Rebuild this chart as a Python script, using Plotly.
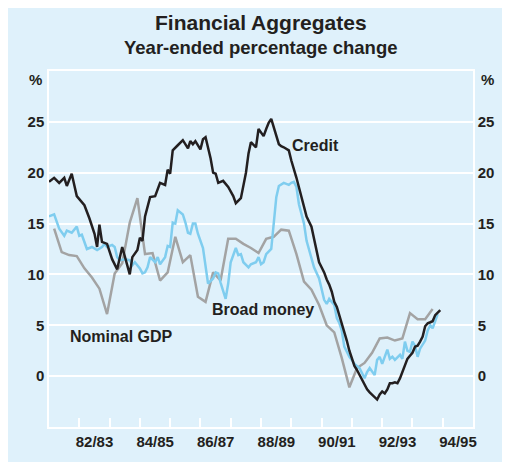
import plotly.graph_objects as go

# Credit, year-ended % change (monthly)
credit_dates = [
    "1981-07", "1981-09", "1981-11",
    "1982-01", "1982-02", "1982-04", "1982-06", "1982-09", "1982-11",
    "1983-01", "1983-02", "1983-03", "1983-04", "1983-06", "1983-08", "1983-10", "1983-12",
    "1984-02", "1984-03", "1984-04", "1984-06", "1984-07", "1984-08", "1984-09", "1984-11",
    "1985-01", "1985-03", "1985-05", "1985-06", "1985-07", "1985-08", "1985-10", "1985-12",
    "1986-02", "1986-03", "1986-04", "1986-05", "1986-07", "1986-08", "1986-09", "1986-11", "1986-12",
    "1987-01", "1987-02", "1987-04", "1987-06", "1987-08", "1987-09", "1987-10", "1987-11",
    "1988-01", "1988-02", "1988-03", "1988-05", "1988-06", "1988-08", "1988-09", "1988-10", "1988-11", "1988-12",
    "1989-01", "1989-02", "1989-03", "1989-04", "1989-06", "1989-07", "1989-09", "1989-11",
    "1990-01", "1990-03", "1990-04", "1990-05", "1990-06", "1990-07", "1990-08", "1990-09", "1990-10", "1990-11", "1990-12",
    "1991-01", "1991-02", "1991-03", "1991-04", "1991-05", "1991-06", "1991-07", "1991-08", "1991-09", "1991-10", "1991-11", "1991-12",
    "1992-01", "1992-02", "1992-03", "1992-04", "1992-05", "1992-06", "1992-07", "1992-08", "1992-09", "1992-10", "1992-11", "1992-12",
    "1993-01", "1993-02", "1993-03", "1993-04", "1993-05", "1993-06", "1993-07", "1993-08", "1993-09", "1993-10", "1993-11", "1993-12",
    "1994-01", "1994-02", "1994-03", "1994-04", "1994-05", "1994-06",
]
credit = [
    19.1, 19.5, 19.0,
    19.5, 18.7, 19.9, 17.7, 16.8, 15.5,
    14.0, 12.7, 14.9, 13.2, 13.0, 11.5, 10.5, 12.7,
    11.0, 10.0, 11.7, 12.4, 13.6, 13.3, 15.7, 17.6,
    17.7, 19.0, 18.8, 20.3, 19.9, 22.2, 22.7, 23.2,
    22.4, 23.1, 22.8, 23.1, 22.3, 23.3, 23.5, 21.4, 20.0,
    19.9, 19.0, 19.2, 18.6, 17.7, 17.0, 17.2, 17.5,
    20.0, 21.9, 23.0, 22.5, 24.3, 23.6, 24.3, 24.9, 25.3, 24.5,
    23.5, 22.8, 22.6, 22.5, 22.2, 21.2, 19.5, 17.5,
    15.7, 14.7, 13.4, 12.5, 11.2, 10.7, 10.2, 9.5, 9.0, 8.3, 7.3,
    6.8, 6.0, 5.3, 4.5, 3.5, 2.5, 1.8, 1.0, 0.6, 0.1, -0.4, -0.9,
    -1.3, -1.6, -1.8, -2.0, -2.3, -1.8, -1.5, -1.7, -1.3, -0.7, -0.7, -0.6,
    -0.7, -0.2, 0.4, 1.0, 1.7, 2.0, 2.3, 2.9, 3.0, 3.4, 3.9, 4.9,
    5.2, 5.3, 5.4, 6.0, 6.3, 6.5,
]

# Broad money, year-ended % change (monthly)
money_dates = [
    "1981-07", "1981-09", "1981-11",
    "1982-01", "1982-02", "1982-04", "1982-06", "1982-07", "1982-08", "1982-09", "1982-10", "1982-12",
    "1983-02", "1983-04", "1983-05", "1983-06", "1983-08", "1983-09", "1983-10", "1983-11",
    "1984-01", "1984-03", "1984-04", "1984-05", "1984-07", "1984-08", "1984-09", "1984-10", "1984-11",
    "1985-01", "1985-02", "1985-03", "1985-05", "1985-06", "1985-07", "1985-08", "1985-09", "1985-10", "1985-12",
    "1986-01", "1986-02", "1986-03", "1986-04", "1986-05", "1986-06", "1986-08", "1986-09", "1986-10", "1986-12",
    "1987-01", "1987-02", "1987-03", "1987-05", "1987-06", "1987-07", "1987-09", "1987-10", "1987-11", "1987-12",
    "1988-02", "1988-03", "1988-05", "1988-06", "1988-07", "1988-08", "1988-09", "1988-11", "1988-12",
    "1989-01", "1989-02", "1989-04", "1989-06", "1989-07", "1989-08", "1989-09", "1989-10", "1989-12",
    "1990-01", "1990-03", "1990-04", "1990-06", "1990-07", "1990-08", "1990-09", "1990-10", "1990-12",
    "1991-01", "1991-02", "1991-03", "1991-04", "1991-06", "1991-07", "1991-08", "1991-10", "1991-11", "1991-12",
    "1992-01", "1992-02", "1992-04", "1992-05", "1992-06", "1992-07", "1992-09", "1992-10", "1992-11", "1992-12",
    "1993-02", "1993-03", "1993-04", "1993-05", "1993-06", "1993-07", "1993-08", "1993-09", "1993-10", "1993-12",
    "1994-01", "1994-02", "1994-03", "1994-04", "1994-05",
]
broad_money = [
    15.7, 15.9, 14.5,
    13.8, 14.3, 14.1, 14.7, 13.8, 13.9, 13.2, 12.5, 12.7,
    12.4, 12.7, 13.0, 12.7, 12.9, 12.7, 11.7, 11.4,
    11.5, 11.4, 10.9, 11.2, 10.6, 10.1, 10.2, 10.7, 11.7,
    11.2, 11.7, 11.0, 11.7, 12.8, 12.7, 15.1, 15.0, 16.3, 15.9,
    15.1, 14.1, 14.0, 15.0, 15.0, 14.0, 12.6, 10.7, 9.1, 9.6,
    10.2, 10.1, 9.2, 7.6, 9.1, 11.2, 12.6, 11.9, 12.0, 11.2,
    10.7, 11.0, 11.2, 11.7, 11.0, 11.2, 12.0, 12.5, 15.3,
    17.6, 18.7, 19.0, 18.8, 19.0, 19.1, 18.6, 16.9, 15.0,
    13.3, 11.4, 10.7, 9.6, 8.4, 7.5, 7.1, 7.6, 7.0,
    5.7, 5.2, 4.5, 2.9, 1.9, 1.6, 1.2, 0.8, 0.3, -0.2,
    0.4, 0.8, 0.1, 1.6, 1.9, 1.2, 2.6, 1.7, 1.9, 1.6,
    2.1, 1.7, 3.4, 2.5, 2.4, 3.4, 3.0, 1.9, 2.7, 3.5,
    4.5, 5.0, 4.7, 5.5, 6.1,
]

# Nominal GDP, year-ended % change (quarterly)
gdp_dates = [
    "1981-09", "1981-12",
    "1982-03", "1982-06", "1982-09", "1982-12",
    "1983-03", "1983-06", "1983-09", "1983-12",
    "1984-03", "1984-06", "1984-09", "1984-12",
    "1985-03", "1985-06", "1985-09", "1985-12",
    "1986-03", "1986-06", "1986-09", "1986-12",
    "1987-03", "1987-06", "1987-09", "1987-12",
    "1988-03", "1988-06", "1988-09", "1988-12",
    "1989-03", "1989-06", "1989-09", "1989-12",
    "1990-03", "1990-06", "1990-09", "1990-12",
    "1991-03", "1991-06", "1991-09", "1991-12",
    "1992-03", "1992-06", "1992-09", "1992-12",
    "1993-03", "1993-06", "1993-09", "1993-12",
    "1994-03",
]
nominal_gdp = [
    14.5, 12.2,
    11.9, 11.8, 10.6, 9.7,
    8.6, 6.1, 10.1, 11.1,
    15.1, 17.5, 12.0, 12.1,
    9.4, 10.2, 13.7, 11.2,
    11.9, 7.8, 7.3, 10.2,
    9.4, 13.5, 13.5, 13.0,
    12.6, 12.1, 13.5, 13.7,
    14.4, 14.3, 12.0, 9.3,
    8.5, 7.0, 5.0, 4.3,
    1.8, -1.1, 0.8, 1.3,
    2.3, 3.7, 3.8, 3.5,
    3.7, 6.2, 5.6, 5.6,
    6.6,
]

# axis labels
y_ticks = [0, 5, 10, 15, 20, 25]
year_bounds = [f"{y}-07-01" for y in range(1982, 1995)]
label_dates = [f"{y}-01-01" for y in range(1983, 1996, 2)]
label_text = ["82/83", "84/85", "86/87", "88/89", "90/91", "92/93", "94/95"]

BG = "#dff1fb"
FONT = "Liberation Sans, Arial, sans-serif"
INK = "#231f20"
TICKFONT = dict(family=FONT, size=15, color=INK, weight="bold")

fig = go.Figure()
fig.add_trace(go.Scatter(x=gdp_dates, y=nominal_gdp, mode="lines",
                         line=dict(color="#a3a3a3", width=2.5), name="Nominal GDP"))
fig.add_trace(go.Scatter(x=money_dates, y=broad_money, mode="lines",
                         line=dict(color="#7fcdef", width=2.5), name="Broad money"))
fig.add_trace(go.Scatter(x=credit_dates, y=credit, mode="lines",
                         line=dict(color=INK, width=2.5), name="Credit"))
# invisible trace so the right-hand axis is drawn
fig.add_trace(go.Scatter(x=credit_dates[:1], y=credit[:1], yaxis="y2", mode="lines",
                         showlegend=False, hoverinfo="skip", line=dict(width=0)))

yax = dict(range=[-5, 30], tickmode="array", tickvals=y_ticks, showgrid=True,
           gridcolor="white", gridwidth=1.5, zeroline=False, showline=True,
           linecolor="white", linewidth=1.5, ticks="", ticklen=0, tickfont=TICKFONT)

# the page body has an 8px margin, so the figure is a little smaller than the window
fig.update_layout(
    width=502, height=454,
    margin=dict(l=41, r=37, t=63, b=35),
    paper_bgcolor=BG, plot_bgcolor=BG,
    showlegend=False,
    font=dict(family=FONT, color=INK),
    xaxis=dict(type="date", range=["1981-07-01", "1995-07-01"], tickmode="array",
               tickvals=label_dates, ticktext=label_text, ticks="", showgrid=False,
               showline=True, linecolor="white", linewidth=1.5, mirror=True,
               tickfont=TICKFONT,
               minor=dict(tickmode="array", tickvals=year_bounds, ticks="inside",
                          ticklen=9, tickwidth=1.5, tickcolor="white", showgrid=False)),
    yaxis=dict(**yax, side="left", mirror=True),
    yaxis2=dict(**yax, side="right", overlaying="y"),
    annotations=[
        dict(text="<b>Financial Aggregates</b>", x=0.5, y=1.1376, xref="paper", yref="paper",
             yanchor="middle", showarrow=False, font=dict(size=21)),
        dict(text="<b>Year-ended percentage change</b>", x=0.5, y=1.067, xref="paper",
             yref="paper", yanchor="middle", showarrow=False, font=dict(size=18.5)),
        dict(text="<b>Credit</b>", x="1989-06-10", y=22.7, showarrow=False, xanchor="left",
             font=dict(size=16)),
        dict(text="<b>Broad money</b>", x="1986-10-20", y=6.6, showarrow=False, xanchor="left",
             font=dict(size=16)),
        dict(text="<b>Nominal GDP</b>", x="1982-02-15", y=3.9, showarrow=False, xanchor="left",
             font=dict(size=16)),
        dict(text="<b>%</b>", x=0, y=29.2, xref="paper", xanchor="right", xshift=-5,
             showarrow=False, font=dict(size=15)),
        dict(text="<b>%</b>", x=1, y=29.2, xref="paper", xanchor="left", xshift=6,
             showarrow=False, font=dict(size=15)),
    ],
)

fig.write_html("out.html")
